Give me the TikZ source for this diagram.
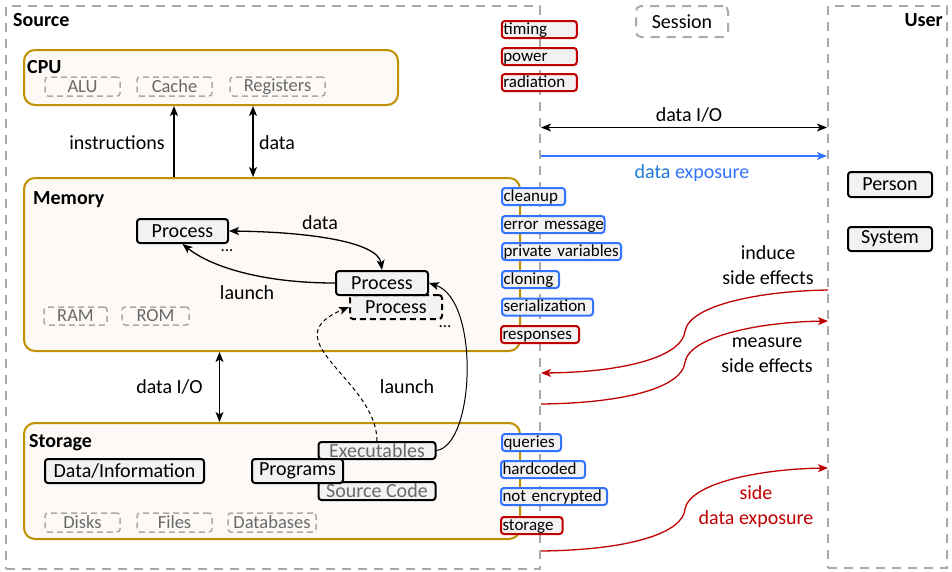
\documentclass[tikz,border=0pt]{standalone}
\usepackage{fontspec}
\setmainfont{Carlito}
\usetikzlibrary{arrows.meta}
\definecolor{gold}{RGB}{191,144,0}
\definecolor{cream}{RGB}{252,249,246}
\definecolor{lgray}{RGB}{242,242,242}
\definecolor{dgray}{RGB}{170,170,170}
\definecolor{subtext}{RGB}{105,105,105}
\definecolor{tblue}{RGB}{50,115,255}
\definecolor{dblue}{RGB}{30,120,215}
\definecolor{tred}{RGB}{192,0,0}
\begin{document}
\begin{tikzpicture}[x=1pt,y=-1pt,
  font=\fontsize{20}{25}\selectfont,
  >={Stealth[length=10pt,width=8pt,inset=2.5pt]},
  zone/.style={draw=dgray,line width=2pt,dash pattern=on 9pt off 7pt,inner sep=0pt},
  comp/.style={draw=gold,fill=cream,line width=2pt,rounded corners=11pt,inner sep=0pt},
  proc/.style={draw=black,fill=lgray,line width=2pt,rounded corners=3pt,inner sep=0pt},
  dproc/.style={proc,dash pattern=on 6pt off 4pt},
  part/.style={draw=dgray,line width=1.5pt,dash pattern=on 6pt off 4pt,rounded corners=3pt,
    text=subtext,font=\fontsize{18.5}{20}\selectfont,inner sep=0pt},
  tag/.style={fill=lgray,line width=2pt,rounded corners=3pt,inner xsep=1.5pt,inner ysep=0pt,
    anchor=north west,align=left,font=\fontsize{17}{18}\selectfont,minimum height=17pt,
    text height=12.5pt,text depth=3.5pt},
  redtag/.style={tag,draw=tred},
  bluetag/.style={tag,draw=tblue},
  title/.style={font=\fontsize{20}{25}\selectfont\bfseries,inner sep=0pt},
  lbl/.style={inner sep=0pt,align=center},
  conn/.style={line width=1.3pt},
  redconn/.style={line width=1.3pt,draw=tred,-{Stealth[length=10pt,width=8pt,inset=2.5pt,fill=tred]}},
]
\useasboundingbox (0,0) rectangle (952,571);

% zones
\node[zone,minimum width=534pt,minimum height=563pt] (src) at (273,287.5) {};
\node[zone,minimum width=119pt,minimum height=562pt] (usr) at (887.5,287) {};
\node[zone,rounded corners=5pt,minimum width=92pt,minimum height=31pt] (ses) at (682,21.5) {Session};
\node[title,anchor=west] (srct) at (13,20) {Source};
\node[title,anchor=east] (usrt) at (943,20) {User};

% components
\node[comp,minimum width=374pt,minimum height=55pt] (cpu) at (211,77.5) {};
\node[comp,minimum width=496pt,minimum height=173pt] (mem) at (272,264.5) {};
\node[comp,minimum width=496pt,minimum height=116pt] (sto) at (272,481) {};
\node[title,anchor=west] (cput) at (27,67) {CPU};
\node[title,anchor=west] (memt) at (33,200) {Memory};
\node[title,anchor=west] (stot) at (29,443) {Storage};

% parts
\node[part,minimum width=75pt,minimum height=19pt] (alu) at (82.5,86.5) {ALU};
\node[part,minimum width=75pt,minimum height=19pt] (cache) at (174.5,86.5) {Cache};
\node[part,minimum width=95pt,minimum height=19pt] (reg) at (277.5,86.5) {Registers};
\node[part,minimum width=63pt,minimum height=18pt] (ram) at (75.5,316) {RAM};
\node[part,minimum width=67pt,minimum height=18pt] (rom) at (155.5,316) {ROM};
\node[part,minimum width=75pt,minimum height=19pt] (disk) at (82.5,522.5) {Disks};
\node[part,minimum width=75pt,minimum height=19pt] (file) at (174.5,522.5) {Files};
\node[part,minimum width=88pt,minimum height=19pt] (db) at (272,522.5) {Databases};

% processes
\node[proc,minimum width=91pt,minimum height=24pt] (p1) at (182.5,231) {Process};
\node[dproc,minimum width=92pt,minimum height=24pt] (p3) at (396,307) {Process};
\node[proc,minimum width=92pt,minimum height=24pt] (p2) at (382,283) {Process};
\node[lbl,font=\fontsize{17}{18}\selectfont] (dots1) at (227,251) {...};
\node[lbl,font=\fontsize{17}{18}\selectfont] (dots2) at (445,327) {...};

% storage content
\node[proc,minimum width=159pt,minimum height=24pt] (info) at (124.5,471) {Data/Information};
\node[proc,text=subtext,minimum width=117pt,minimum height=17pt] (ex) at (377,450.5) {Executables};
\node[proc,text=subtext,minimum width=117pt,minimum height=18pt] (sc) at (377,491) {Source Code};
\node[proc,minimum width=91pt,minimum height=24pt] (prog) at (297.5,471) {Programs};

% user content
\node[proc,minimum width=84pt,minimum height=25pt] (person) at (890,184.5) {Person};
\node[proc,minimum width=84pt,minimum height=24pt] (system) at (890,239) {System};

% tags
\node[redtag,text width=72pt] (t1) at (500.8,20) {\mbox{timing}};
\node[redtag,text width=72pt] (t2) at (500.8,47) {\mbox{power}};
\node[redtag,text width=72pt] (t3) at (500.8,73) {\mbox{radiation}};
\node[bluetag,text width=60pt] (m1) at (501,187) {\mbox{cleanup}};
\node[bluetag,text width=99.5pt] (m2) at (501,215) {\mbox{error message}};
\node[bluetag,text width=116pt] (m3) at (501,242) {\mbox{private variables}};
\node[bluetag,text width=54pt] (m4) at (501,270) {\mbox{cloning}};
\node[bluetag,text width=88pt] (m5) at (501,297.5) {\mbox{serialization}};
\node[redtag,text width=75pt] (m6) at (500,325) {\mbox{responses}};
\node[bluetag,text width=56pt] (s1) at (501,433) {\mbox{queries}};
\node[bluetag,text width=81pt] (s2) at (500,460) {\mbox{hardcoded}};
\node[bluetag,text width=103pt] (s3) at (500,487) {\mbox{not encrypted}};
\node[redtag,text width=58.5pt] (s4) at (500,516) {\mbox{storage}};

% vertical arrows
\coordinate (insx) at (174,0);
\coordinate (datx) at (253,0);
\coordinate (iox) at (219.5,0);
\draw[conn,->] (insx |- mem.north) -- (insx |- cpu.south);
\draw[conn,<->] (datx |- mem.north) -- (datx |- cpu.south);
\draw[conn,<->] (iox |- sto.north) -- (iox |- mem.south);
\node[lbl] (linstr) at (117,143) {instructions};
\node[lbl] (ldata) at (277,143) {data};
\node[lbl] (lio) at (169.5,387) {data I/O};

% memory connectors
\draw[conn,<->] (p1.east) .. controls (310,232) and (378,242) .. (p2.north);
\draw[conn,->] (p2.west) .. controls (260,283) and (210,266) .. (p1.south);
\node[lbl] (ldata2) at (320,223) {data};
\node[lbl] (llaunch1) at (247,293) {launch};
\draw[conn,->,line width=1pt,dash pattern=on 4pt off 3pt] (ex.north) .. controls (377,380) and (270,340) .. (p3.west);
\draw[conn,->,line width=1pt] (ex.east) .. controls (475,445) and (480,300) .. (p2.east);
\node[lbl] (llaunch2) at (407,387) {launch};

% session arrows
\coordinate (ioy) at (0,127.5);
\coordinate (expy) at (0,156);
\draw[conn,<->] (ioy -| src.east) -- (ioy -| usr.west);
\node[lbl] (lio2) at (689,115) {data I/O};
\draw[conn,draw=tblue,-{Stealth[length=10pt,width=8pt,inset=2.5pt,fill=tblue]}] (expy -| src.east) -- (expy -| usr.west);
\node[lbl] (lexp) at (692,173) {\textcolor{dblue}{data} \textcolor{tblue}{exposure}};

% red side-channel curves
\coordinate (ind1) at (828,290);
\coordinate (indm) at (685,331);
\coordinate (ind2) at (541,373);
\draw[redconn] (ind1) .. controls (760,291) and (690,305) .. (indm) .. controls (683,355) and (630,372) .. (ind2);
\node[lbl] (lind) at (768,265) {induce\\side effects};

\coordinate (mea1) at (541,404);
\coordinate (meam) at (685,362);
\coordinate (mea2) at (828,321);
\draw[redconn] (mea1) .. controls (630,403) and (683,386) .. (meam) .. controls (690,336) and (760,322) .. (mea2);
\node[lbl] (lmea) at (767,355) {measure\\side effects};

\coordinate (sid1) at (541,551);
\coordinate (sidm) at (685,509);
\coordinate (sid2) at (828,468);
\draw[redconn] (sid1) .. controls (630,550) and (683,533) .. (sidm) .. controls (690,483) and (760,469) .. (sid2);
\node[lbl,text=tred] (lsid) at (756,507) {side\\data exposure};
\end{tikzpicture}
\end{document}
